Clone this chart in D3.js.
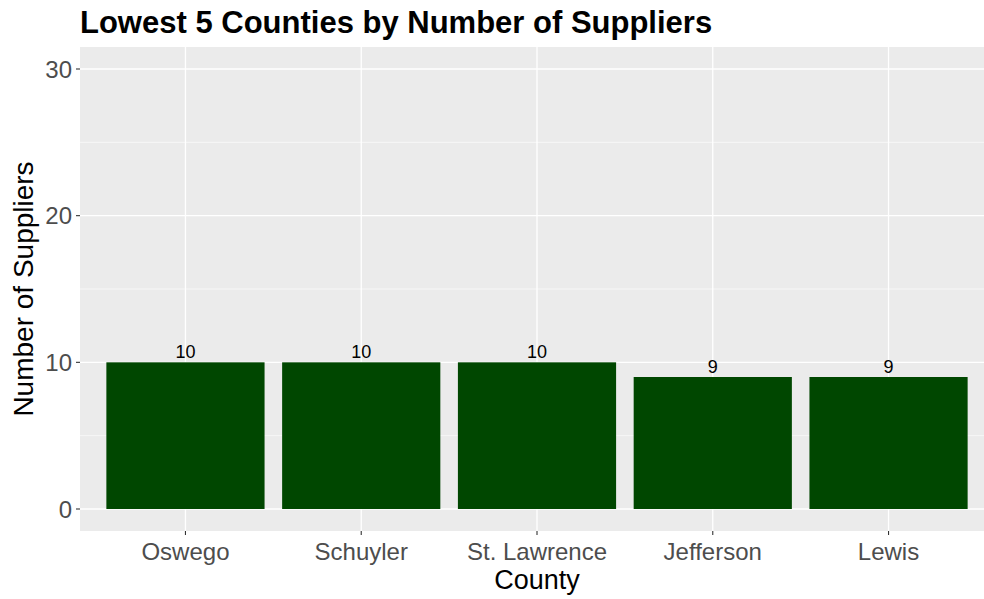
<!DOCTYPE html>
<html lang="en">
<head>
<meta charset="UTF-8">
<title>Lowest 5 Counties by Number of Suppliers</title>
<script src="https://d3js.org/d3.v7.min.js"></script>
<style>
  body { margin: 0; background: #fff; }
  text { font-family: "Liberation Sans", Arial, sans-serif; }
</style>
</head>
<body>
<script>
    // data
    var counties = ["Oswego", "Schuyler", "St. Lawrence", "Jefferson", "Lewis"];
    var suppliers = [10, 10, 10, 9, 9];
    var yTicks = [0, 10, 20, 30];
    var yMinor = [5, 15, 25];

    var W = 984, H = 599;
    var panel = {left: 80, right: 994, top: 47, bottom: 531};

    var svg = d3.select('body').append('svg')
        .attr('width', W)
        .attr('height', H);

    // ggplot-like scales: discrete expand 0.6, continuous expand 5%
    var x = d3.scaleLinear()
        .domain([0.4, counties.length + 0.6])
        .range([panel.left, panel.right]);
    var y = d3.scaleLinear()
        .domain([-1.5, 31.5])
        .range([panel.bottom, panel.top]);

    var g = svg.append('g');

    // panel background
    g.append('rect')
        .attr('x', panel.left).attr('y', panel.top)
        .attr('width', panel.right - panel.left)
        .attr('height', panel.bottom - panel.top)
        .attr('fill', '#EBEBEB');

    // grid lines
    g.selectAll('.minor')
        .data(yMinor).enter().append('line')
        .attr('x1', panel.left).attr('x2', panel.right)
        .attr('y1', d => y(d)).attr('y2', d => y(d))
        .attr('stroke', '#fff').attr('stroke-width', 0.6);
    g.selectAll('.major')
        .data(yTicks).enter().append('line')
        .attr('x1', panel.left).attr('x2', panel.right)
        .attr('y1', d => y(d)).attr('y2', d => y(d))
        .attr('stroke', '#fff').attr('stroke-width', 1.3);
    g.selectAll('.vmajor')
        .data(counties).enter().append('line')
        .attr('x1', (d, i) => x(i + 1)).attr('x2', (d, i) => x(i + 1))
        .attr('y1', panel.top).attr('y2', panel.bottom)
        .attr('stroke', '#fff').attr('stroke-width', 1.3);

    // bars
    g.selectAll('.bar')
        .data(suppliers).enter().append('rect')
        .attr('x', (d, i) => x(i + 1 - 0.45))
        .attr('width', x(1.45) - x(0.55))
        .attr('y', d => y(d))
        .attr('height', d => y(0) - y(d))
        .attr('fill', '#004700');

    // value labels
    g.selectAll('.lab')
        .data(suppliers).enter().append('text')
        .attr('x', (d, i) => x(i + 1))
        .attr('y', d => y(d) - 4)
        .attr('text-anchor', 'middle')
        .attr('font-size', '18px')
        .attr('fill', '#000')
        .text(d => d);

    // y axis ticks + labels
    g.selectAll('.ytick')
        .data(yTicks).enter().append('line')
        .attr('x1', panel.left - 4).attr('x2', panel.left)
        .attr('y1', d => y(d)).attr('y2', d => y(d))
        .attr('stroke', '#333').attr('stroke-width', 1.1);
    g.selectAll('.ylab')
        .data(yTicks).enter().append('text')
        .attr('x', panel.left - 8)
        .attr('y', d => y(d))
        .attr('dy', '0.36em')
        .attr('text-anchor', 'end')
        .attr('font-size', '24px')
        .attr('fill', '#4D4D4D')
        .text(d => d);

    // x axis ticks + labels
    g.selectAll('.xtick')
        .data(counties).enter().append('line')
        .attr('x1', (d, i) => x(i + 1)).attr('x2', (d, i) => x(i + 1))
        .attr('y1', panel.bottom).attr('y2', panel.bottom + 4)
        .attr('stroke', '#333').attr('stroke-width', 1.1);
    g.selectAll('.xlab')
        .data(counties).enter().append('text')
        .attr('x', (d, i) => x(i + 1))
        .attr('y', 560)
        .attr('text-anchor', 'middle')
        .attr('font-size', '24px')
        .attr('fill', '#4D4D4D')
        .text(d => d);

    // axis titles
    svg.append('text')
        .attr('x', (panel.left + panel.right) / 2)
        .attr('y', 589)
        .attr('text-anchor', 'middle')
        .attr('font-size', '27px')
        .attr('fill', '#000')
        .text('County');

    svg.append('text')
        .attr('transform', 'translate(33,' + (panel.top + panel.bottom) / 2 + ') rotate(-90)')
        .attr('text-anchor', 'middle')
        .attr('font-size', '28px')
        .attr('fill', '#000')
        .text('Number of Suppliers');

    // title
    svg.append('text')
        .attr('x', panel.left)
        .attr('y', 33)
        .attr('font-size', '31px')
        .attr('font-weight', 'bold')
        .attr('fill', '#000')
        .text('Lowest 5 Counties by Number of Suppliers');
</script>
</body>
</html>
